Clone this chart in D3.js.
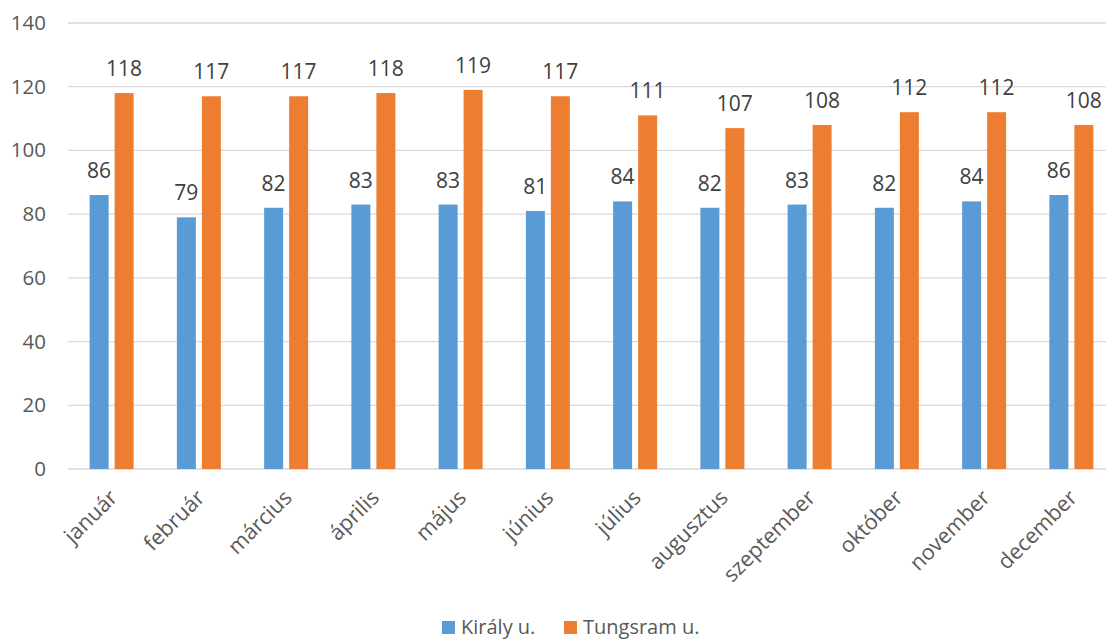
<!DOCTYPE html>
<html><head><meta charset="utf-8">
<script src="https://cdn.jsdelivr.net/npm/d3@7"></script>
<style>body{margin:0;background:#fff}svg{display:block}text{font-family:"Open Sans",sans-serif}</style>
</head><body>
<svg id="c" width="1106" height="639"></svg>
<script>
const categories = ["január","február","március","április","május","június","július","augusztus","szeptember","október","november","december"];
const seriesNames = ["Király u.","Tungsram u."];
const kiraly = [86,79,82,83,83,81,84,82,83,82,84,86];
const tungsram = [118,117,117,118,119,117,111,107,108,112,112,108];
const yTicks = [0,20,40,60,80,100,120,140];
const colors = ["#5B9BD5","#ED7D31"];

const svg = d3.select("#c");
const x = d3.scaleBand().domain(categories).range([68,1115]);
const y = d3.scaleLinear().domain([0,140]).range([469,23]);
const xs = d3.scaleBand().domain(seriesNames).range([0,x.bandwidth()]).paddingInner(0.24).paddingOuter(0.865);

// gridlines
svg.append("g").selectAll("line").data(yTicks).join("line")
  .attr("x1",68).attr("x2",1115).attr("y1",d=>y(d)).attr("y2",d=>y(d))
  .attr("stroke","#D9D9D9").attr("stroke-width",1.3);

// y axis labels
const ya = svg.append("g").attr("transform","translate(68,0)")
  .call(d3.axisLeft(y).tickValues(yTicks).tickSize(0).tickPadding(22));
ya.select(".domain").remove();
ya.selectAll("text").attr("font-size","20.5px").attr("fill","#595959").attr("font-family","Open Sans");

const data = [kiraly, tungsram];
data.forEach((vals,si)=>{
  const g = svg.append("g");
  g.selectAll("rect").data(vals).join("rect")
    .attr("x",(d,i)=>x(categories[i])+xs(seriesNames[si]))
    .attr("width",xs.bandwidth())
    .attr("y",d=>y(d)).attr("height",d=>y(0)-y(d))
    .attr("fill",colors[si]);
  g.selectAll("text").data(vals).join("text")
    .attr("x",(d,i)=>x(categories[i])+xs(seriesNames[si])+xs.bandwidth()/2)
    .attr("y",d=>y(d)-17)
    .attr("text-anchor","middle").attr("font-size","21px").attr("fill","#404040")
    .text(d=>d);
});

// x labels
svg.append("g").selectAll("text").data(categories).join("text")
  .attr("transform",d=>`translate(${x(d)+x.bandwidth()/2+7},499) rotate(-45)`)
  .attr("text-anchor","end").attr("font-size","21.5px").attr("fill","#595959")
  .text(d=>d);

// legend
const legX = [442,564];
const lg = svg.append("g");
seriesNames.forEach((n,i)=>{
  lg.append("rect").attr("x",legX[i]).attr("y",621).attr("width",13).attr("height",13).attr("fill",colors[i]);
  lg.append("text").attr("x",legX[i]+19).attr("y",634).attr("font-size","20px").attr("fill","#595959").text(n);
});
</script>
</body></html>
